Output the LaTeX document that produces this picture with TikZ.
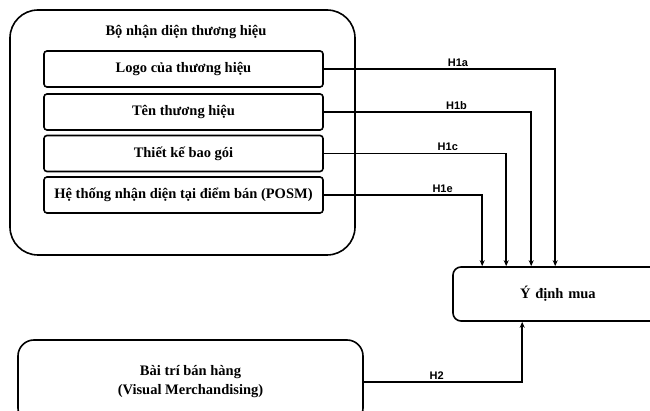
\documentclass[tikz,border=0pt]{standalone}
\usepackage{fontspec}
\setmainfont{Liberation Serif}
\setsansfont{Liberation Sans}
\usetikzlibrary{arrows.meta,positioning,calc}

\tikzset{
  grp/.style={draw,line width=1.6pt,rounded corners=28pt,inner sep=0pt},
  item/.style={draw,line width=1.6pt,rounded corners=3pt,minimum width=279pt,minimum height=36pt,
    font=\bfseries\fontsize{14.5}{18}\selectfont},
  hyp/.style={draw,line width=1.5pt,-{Stealth[length=6pt,width=5pt]}},
  lbl/.style={above,inner sep=2pt,font=\sffamily\bfseries\fontsize{11}{13}\selectfont},
}

\begin{document}
\begin{tikzpicture}[x=1pt,y=-1pt]
  \path[use as bounding box,clip] (0,0) rectangle (650,411);
  % brand identity group
  \node[grp,minimum width=345pt,minimum height=245pt] (brand) at (182.5,132.5) {};
  \node[font=\bfseries\fontsize{14.5}{18}\selectfont] (brandtitle) at (186,32) {Bộ nhận diện thương hiệu};
  \node[item] (logo) at (183.5,69) {Logo của thương hiệu};
  \node[item] (name) at (183.5,112) {Tên thương hiệu};
  \node[item] (pack) at (183.5,153.5) {Thiết kế bao gói};
  \node[item] (posm) at (183.5,195) {Hệ thống nhận diện tại điểm bán (POSM)};
  % outcome and second factor
  \node[draw,line width=1.6pt,rounded corners=8pt,minimum width=230pt,minimum height=54pt,
    font=\bfseries\fontsize{14.5}{18}\selectfont,text width=210pt,align=left] (buy) at (568,294)
    {\hspace*{57pt}Ý định mua};
  \node[draw,line width=1.6pt,rounded corners=16pt,minimum width=345pt,minimum height=84pt,
    align=center,font=\bfseries\fontsize{14.5}{19}\selectfont] (vm) at (190.5,382)
    {Bài trí bán hàng\\(Visual Merchandising)};
  % hypotheses
  \draw[hyp] (logo.east) -| node[lbl,pos=0.29] {H1a} ([xshift=103pt]buy.north west);
  \draw[hyp] (name.east) -| node[lbl,pos=0.32] {H1b} ([xshift=79pt]buy.north west);
  \draw[hyp] (pack.east) -| node[lbl,pos=0.34] {H1c} ([xshift=54pt]buy.north west);
  \draw[hyp] (posm.east) -| node[lbl,pos=0.375] {H1e} ([xshift=30pt]buy.north west);
  \draw[hyp] (vm.east) -| node[lbl,pos=0.23] {H2} ([xshift=70pt]buy.south west);
\end{tikzpicture}
\end{document}
